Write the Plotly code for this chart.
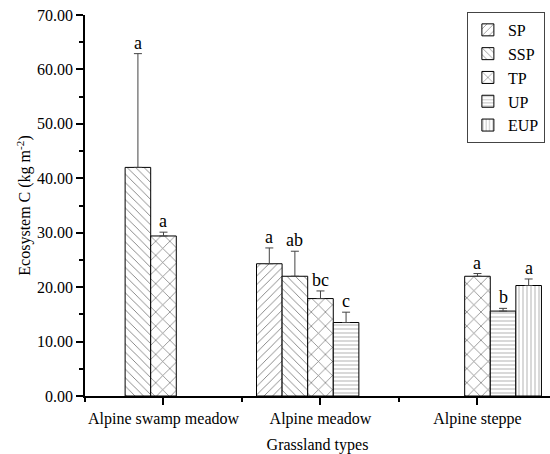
import plotly.graph_objects as go

categories = ["Alpine swamp meadow", "Alpine meadow", "Alpine steppe"]
series = ["SP", "SSP", "TP", "UP", "EUP"]
patterns = ["/", "\\", "x", "-", "|"]
pattern_sizes = [6, 6, 10, 4, 4]

sp_vals = [None, 24.3, None]
ssp_vals = [42.0, 22.0, None]
tp_vals = [29.4, 17.9, 22.0]
up_vals = [None, 13.5, 15.6]
eup_vals = [None, None, 20.3]

sp_err = [0, 2.9, 0]
ssp_err = [20.9, 4.6, 0]
tp_err = [0.7, 1.4, 0.5]
up_err = [0, 1.9, 0.5]
eup_err = [0, 0, 1.2]

sp_lab = [None, "a", None]
ssp_lab = ["a", "ab", None]
tp_lab = ["a", "bc", "a"]
up_lab = [None, "c", "b"]
eup_lab = [None, None, "a"]

y_ticks = [0, 10, 20, 30, 40, 50, 60, 70]

vals = [sp_vals, ssp_vals, tp_vals, up_vals, eup_vals]
errs = [sp_err, ssp_err, tp_err, up_err, eup_err]
labs = [sp_lab, ssp_lab, tp_lab, up_lab, eup_lab]

FONT = "Liberation Serif"
bargap = 0.185
xpos = list(range(len(categories)))

fig = go.Figure()
for i, name in enumerate(series):
    fig.add_trace(go.Bar(
        name=name, x=xpos, y=vals[i],
        marker=dict(color="white", line=dict(color="black", width=1),
                    pattern=dict(shape=patterns[i], fgcolor="black", bgcolor="white",
                                 size=pattern_sizes[i], solidity=0.15, fillmode="overlay")),
        error_y=dict(type="data", symmetric=False, array=errs[i],
                     arrayminus=[0] * len(categories), color="#444", thickness=1, width=4,
                     visible=True),
    ))

slot = (1 - bargap) / len(series)
for i in range(len(series)):
    for j in range(len(categories)):
        if labs[i][j] is None or vals[i][j] is None:
            continue
        fig.add_annotation(x=xpos[j] + (i - 2) * slot, y=vals[i][j] + errs[i][j],
                           text=labs[i][j], showarrow=False, yanchor="bottom",
                           yshift=-1, font=dict(family=FONT, size=18, color="black"))

fig.update_layout(
    width=550, height=454,
    margin=dict(l=85, r=0, t=15, b=58),
    paper_bgcolor="white", plot_bgcolor="white",
    barmode="group", bargap=bargap, bargroupgap=0,
    font=dict(family=FONT, size=16, color="black"),
    showlegend=True,
    legend=dict(x=0.989, y=1.008, xanchor="right", yanchor="top",
                bordercolor="#444", borderwidth=1, bgcolor="white",
                font=dict(family=FONT, size=16), tracegroupgap=0, itemwidth=30),
)
fig.update_xaxes(
    range=[-0.5, 2.462], tickmode="array", tickvals=xpos, ticktext=categories,
    showline=True, linecolor="black", linewidth=1.5, ticks="outside", ticklen=7,
    tickcolor="black", tickwidth=1.5, showgrid=False, zeroline=False,
    minor=dict(tickmode="linear", tick0=-0.5, dtick=1, ticks="outside", ticklen=4,
               tickcolor="black", tickwidth=1.5, showgrid=False),
    title=dict(text="Grassland types", font=dict(family=FONT, size=16), standoff=12),
    tickfont=dict(family=FONT, size=16),
)
fig.update_yaxes(
    range=[0, 70], tickmode="array", tickvals=y_ticks, tickformat=".2f",
    showline=True, linecolor="black", linewidth=1.5, ticks="outside", ticklen=7,
    tickcolor="black", tickwidth=1.5, showgrid=False, zeroline=False,
    minor=dict(tickmode="linear", tick0=5, dtick=10, ticks="outside", ticklen=4,
               tickcolor="black", tickwidth=1.5, showgrid=False),
    title=dict(text="Ecosystem C (kg m<sup>-2</sup>)", font=dict(family=FONT, size=16), standoff=2),
    tickfont=dict(family=FONT, size=16),
)

fig.write_html("out.html", config={"displayModeBar": False},
               post_script="document.body.style.margin='0';document.body.style.overflow='hidden';")
